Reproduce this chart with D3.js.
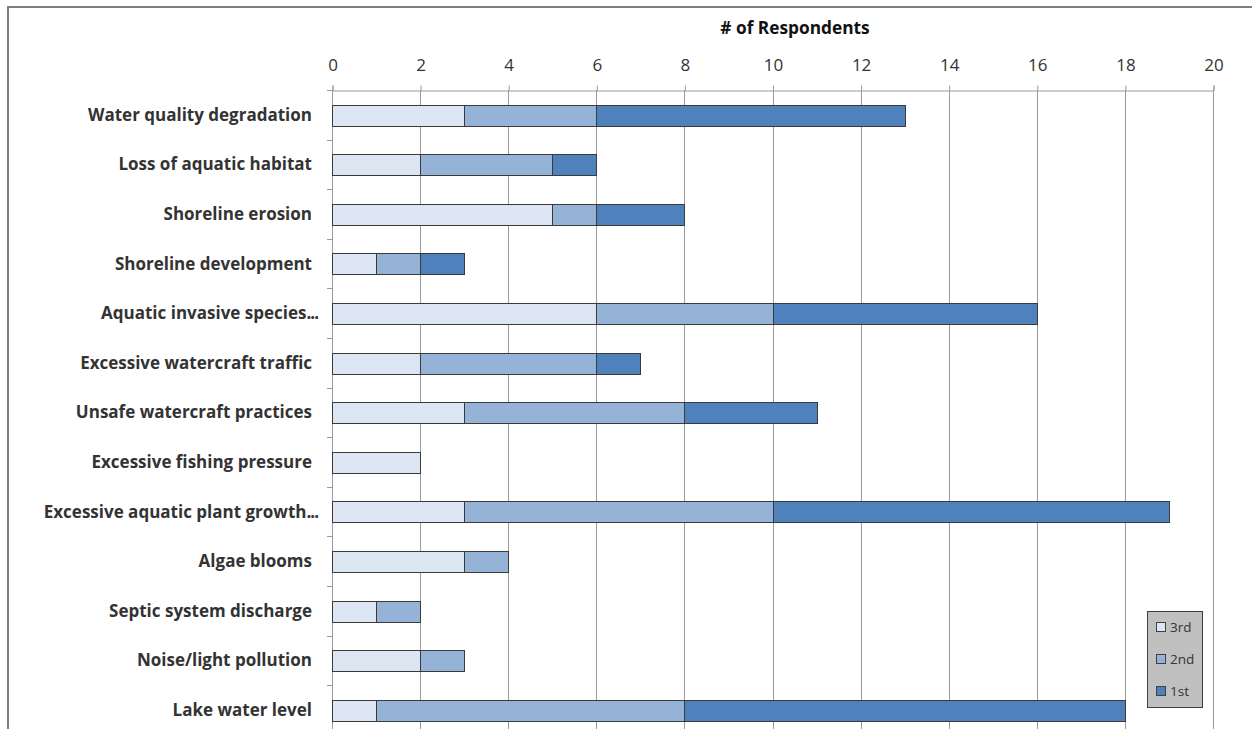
<!DOCTYPE html>
<html>
<head>
<meta charset="utf-8">
<script src="https://cdn.jsdelivr.net/npm/d3@7"></script>
<style>
  html, body { margin: 0; padding: 0; background: #fff; }
  svg { display: block; }
</style>
</head>
<body>
<svg id="chart" width="1252" height="729"></svg>
<script>
// Concerns, top to bottom (long names are cut short with "...")
const categories = [
  "Water quality degradation",
  "Loss of aquatic habitat",
  "Shoreline erosion",
  "Shoreline development",
  "Aquatic invasive species...",
  "Excessive watercraft traffic",
  "Unsafe watercraft practices",
  "Excessive fishing pressure",
  "Excessive aquatic plant growth...",
  "Algae blooms",
  "Septic system discharge",
  "Noise/light pollution",
  "Lake water level"
];
// Respondents ranking each concern 3rd, 2nd, 1st
const third  = [3, 2, 5, 1, 6, 2, 3, 2, 3, 3, 1, 2, 1];
const second = [3, 3, 1, 1, 4, 4, 5, 0, 7, 1, 1, 1, 7];
const first  = [7, 1, 2, 1, 6, 1, 3, 0, 9, 0, 0, 0, 10];
const seriesNames = ["3rd", "2nd", "1st"];
const seriesColors = ["#dce6f2", "#95b3d7", "#4f81bd"];
const xTicks = [0, 2, 4, 6, 8, 10, 12, 14, 16, 18, 20];
const axisTitle = "# of Respondents";

const font = "'Open Sans', Lato, sans-serif";
const svg = d3.select("#chart");

// Outer frame (top and left edges)
svg.append("path")
  .attr("d", "M8,729 V7 H1252")
  .attr("fill", "none").attr("stroke", "#7f7f7f").attr("stroke-width", 2);

const x = d3.scaleLinear().domain([0, 20]).range([332, 1213]);
const y = d3.scaleBand().domain(categories).range([90, 90 + 13 * 49.6]).paddingInner(0.585).paddingOuter(0.2925);

const rows = categories.map((c, i) => ({ cat: c, vals: [third[i], second[i], first[i]] }));
const stack = d3.stack().keys([0, 1, 2]).value((d, k) => d.vals[k]);
const layers = stack(rows);

// Vertical gridlines
svg.append("g").selectAll("line").data(xTicks).join("line")
  .attr("x1", d => Math.round(x(d)) + 0.5).attr("x2", d => Math.round(x(d)) + 0.5)
  .attr("y1", 90).attr("y2", 729)
  .attr("stroke", "#9a9a9a").attr("stroke-width", 1);

// Top value axis
const xAxis = svg.append("g").attr("transform", "translate(0.5,90.5)")
  .call(d3.axisTop(x).tickValues(xTicks).tickSize(5).tickPadding(15).tickFormat(d3.format("d")));
xAxis.select(".domain").attr("stroke", "#9a9a9a");
xAxis.selectAll(".tick line").attr("stroke", "#9a9a9a");
xAxis.selectAll(".tick text").attr("font-family", font).attr("font-size", 17).attr("fill", "#333");

svg.append("text").attr("x", 795).attr("y", 34).attr("text-anchor", "middle")
  .attr("font-family", font).attr("font-weight", "bold").attr("font-size", 17.3).attr("fill", "#111")
  .text(axisTitle);

// Category axis
const step = y.step();
const catTicks = d3.range(categories.length + 1).map(i => 90 + i * step);
svg.append("line").attr("x1", 332.5).attr("x2", 332.5).attr("y1", 90).attr("y2", 729)
  .attr("stroke", "#9a9a9a");
svg.append("g").selectAll("line").data(catTicks).join("line")
  .attr("x1", 327).attr("x2", 332).attr("y1", d => Math.round(d) + 0.5).attr("y2", d => Math.round(d) + 0.5)
  .attr("stroke", "#9a9a9a");

// Category labels; the tightly set trailing dots of shortened names hang past the label edge
const labels = svg.append("g").selectAll("text").data(categories).join("text")
  .attr("x", d => d.endsWith("...") ? 318 : 312)
  .attr("y", d => y(d) + y.bandwidth() / 2)
  .attr("dy", "0.35em").attr("text-anchor", "end")
  .attr("font-family", font).attr("font-weight", "bold").attr("font-size", 17).attr("fill", "#333");
labels.each(function (d) {
  const t = d3.select(this);
  if (d.endsWith("...")) {
    t.append("tspan").text(d.slice(0, -3));
    t.append("tspan").attr("letter-spacing", -1).text("...");
  } else {
    t.text(d);
  }
});

// Stacked bars
svg.append("g").selectAll("g").data(layers).join("g")
  .attr("fill", (d, i) => seriesColors[i])
  .selectAll("rect").data(d => d.filter(s => s[1] > s[0])).join("rect")
  .attr("x", d => Math.round(x(d[0])) + 0.5)
  .attr("width", d => Math.round(x(d[1])) - Math.round(x(d[0])))
  .attr("y", d => Math.round(y(d.data.cat)) + 0.5)
  .attr("height", Math.round(y.bandwidth()))
  .attr("stroke", "#3a3a3a").attr("stroke-width", 1);

// Legend
const lg = svg.append("g");
lg.append("rect").attr("x", 1147.5).attr("y", 611.5).attr("width", 55).attr("height", 96)
  .attr("fill", "#c0c0c0").attr("stroke", "#404040");
seriesNames.forEach((n, i) => {
  const yy = 622 + i * 32;
  lg.append("rect").attr("x", 1156.5).attr("y", yy + 0.5).attr("width", 9).attr("height", 9)
    .attr("fill", seriesColors[i]).attr("stroke", "#404040");
  lg.append("text").attr("x", 1170).attr("y", yy + 5).attr("dy", "0.35em")
    .attr("font-family", font).attr("font-size", 13.5).attr("fill", "#333").text(n);
});
</script>
</body>
</html>
